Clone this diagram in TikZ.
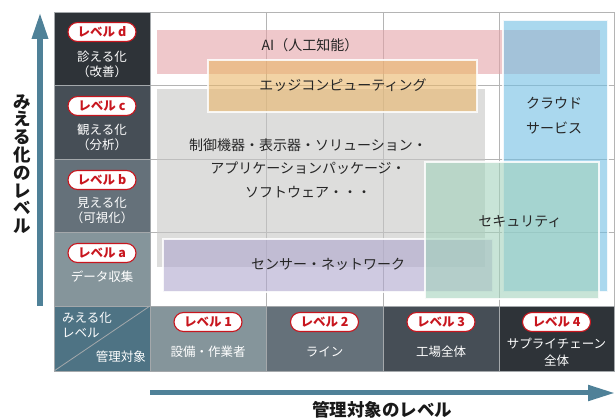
\documentclass[tikz,border=0pt]{standalone}
\usepackage{fontspec}
\setmainfont{Noto Sans CJK JP}
\usetikzlibrary{arrows.meta}
\definecolor{cD}{HTML}{2E3338}
\definecolor{cC}{HTML}{464E56}
\definecolor{cB}{HTML}{65717A}
\definecolor{cA}{HTML}{85959B}
\definecolor{corner}{HTML}{4E7384}
\definecolor{arrowc}{HTML}{4F8198}
\definecolor{badgered}{HTML}{C8161E}
\definecolor{gridc}{HTML}{B4B4B4}
\definecolor{celline}{HTML}{A4A8AB}
\definecolor{fpink}{RGB}{228,163,168}
\definecolor{forange}{RGB}{233,182,105}
\definecolor{fgray}{RGB}{198,198,197}
\definecolor{fblue}{RGB}{113,190,227}
\definecolor{fgreen}{RGB}{163,210,188}
\definecolor{fpurple}{RGB}{175,167,205}
\tikzset{
  cell/.style={draw=celline, line width=0.8pt, inner sep=0pt, outer sep=0pt},
  area/.style={inner sep=0pt, outer sep=0pt, fill opacity=0.6},
  framed/.style={draw=white, line width=1.2pt, draw opacity=0.85},
  badge/.style={draw=badgered, line width=1.1pt, fill=white, rounded corners=9.5pt,
    minimum width=68pt, minimum height=19pt, inner sep=0pt, text=badgered,
    font=\fontsize{12.5}{14}\selectfont\bfseries},
  celltext/.style={text=white, align=center, inner sep=0pt, font=\fontsize{12.5}{15}\selectfont},
  areatext/.style={text=black!85, align=center, inner sep=0pt, font=\fontsize{14}{23.5}\selectfont},
  axislabel/.style={text=black!90, inner sep=0pt, font=\fontsize{17.5}{17.8}\selectfont\bfseries},
  gridline/.style={draw=gridc, line width=0.9pt},
  bigarrow/.style={draw=arrowc, -{Triangle[length=27pt,width=15pt]}}
}
\begin{document}
\begin{tikzpicture}[x=1pt,y=-1pt]
\useasboundingbox (0,0) rectangle (616,419);
% white grid area lines
\draw[gridline] (150,12) -- (614,12) -- (614,306);
\foreach \yy/\nm in {85/g1,159/g2,232/g3}{\draw[gridline] (150,\yy) -- (614,\yy);}
\foreach \xx in {266,383,499}{\draw[gridline] (\xx,12) -- (\xx,306);}
% left column cells
\node[cell, fill=cD, minimum width=96pt, minimum height=73pt] (rowd) at (102,48.5) {};
\node[cell, fill=cC, minimum width=96pt, minimum height=74pt] (rowc) at (102,122) {};
\node[cell, fill=cB, minimum width=96pt, minimum height=73pt] (rowb) at (102,195.5) {};
\node[cell, fill=cA, minimum width=96pt, minimum height=74pt] (rowa) at (102,269) {};
\node[cell, fill=corner, minimum width=96pt, minimum height=65pt] (crn) at (102,338.5) {};
% bottom row cells
\node[cell, fill=cA, minimum width=116pt, minimum height=65pt] (col1) at (208,338.5) {};
\node[cell, fill=cB, minimum width=117pt, minimum height=65pt] (col2) at (324.5,338.5) {};
\node[cell, fill=cC, minimum width=116pt, minimum height=65pt] (col3) at (441,338.5) {};
\node[cell, fill=cD, minimum width=115pt, minimum height=65pt] (col4) at (556.5,338.5) {};
\draw[draw=celline, line width=0.8pt] (crn.south west) -- (crn.north east);
% translucent areas
\node[area, fill=fgray, minimum width=328pt, minimum height=178pt] (gray) at (321,178) {};
\node[area, fill=fpurple, framed, minimum width=330pt, minimum height=53pt] (purple) at (328,265.5) {};
\node[area, fill=fpink, minimum width=443pt, minimum height=44pt] (pink) at (378.5,52) {};
\node[area, fill=forange, framed, minimum width=269pt, minimum height=52pt] (orange) at (342.5,86) {};
\node[area, fill=fblue, framed, minimum width=105pt, minimum height=272pt] (blue) at (555.5,156) {};
\node[area, fill=fgreen, framed, minimum width=174pt, minimum height=137pt] (green) at (512,230.5) {};
% area texts
\node[areatext] (tai) at (310,45) {AI（人工知能）};
\node[areatext] (tedge) at (343,85) {エッジコンピューティング};
\node[areatext] (tgray) at (308,168) {制御機器・表示器・ソリューション・\\アプリケーションパッケージ・\\ソフトウェア・・・};
\node[areatext, font=\fontsize{14}{25}\selectfont] (tcloud) at (554,115.5) {クラウド\\サービス};
\node[areatext] (tsec) at (520,222) {セキュリティ};
\node[areatext] (tsens) at (328,264) {センサー・ネットワーク};
% left column texts
\node[badge] (bd) at (102,32) {レベル d};
\node[celltext] (td) at (102,64.5) {診える化\\（改善）};
\node[badge] (bc) at (102,106) {レベル c};
\node[celltext] (tc) at (102,137.5) {観える化\\（分析）};
\node[badge] (bb) at (102,180) {レベル b};
\node[celltext] (tb) at (102,210.5) {見える化\\（可視化）};
\node[badge] (ba) at (102,253) {レベル a};
\node[celltext] (ta) at (102,277) {データ収集};
% corner texts
\node[celltext, anchor=west] (cr1) at (62,318) {みえる化};
\node[celltext, anchor=west] (cr2) at (62,333) {レベル};
\node[celltext, anchor=east] (cr3) at (146,357) {管理対象};
% bottom texts
\node[badge] (b1) at (208,322) {レベル 1};
\node[celltext] (t1) at (208,352) {設備・作業者};
\node[badge] (b2) at (324.5,322) {レベル 2};
\node[celltext] (t2) at (324.5,352) {ライン};
\node[badge] (b3) at (441,322) {レベル 3};
\node[celltext] (t3) at (441,352) {工場全体};
\node[badge] (b4) at (556.5,322) {レベル 4};
\node[celltext, font=\fontsize{12.5}{16.5}\selectfont] (t4) at (556.5,352.5) {サプライチェーン\\全体};
% axes
\coordinate (vstart) at (40,306);
\coordinate (vend) at (40,12);
\draw[bigarrow, line width=6pt] (vstart) -- (vend);
\coordinate (hstart) at (150,393);
\coordinate (hend) at (615,393);
\draw[bigarrow, line width=5pt] (hstart) -- (hend);
\node[axislabel, align=center] (vlabel) at (22,164) {み\\え\\る\\化\\の\\レ\\ベ\\ル};
\node[axislabel] (hlabel) at (382,410) {管理対象のレベル};
\end{tikzpicture}
\end{document}
